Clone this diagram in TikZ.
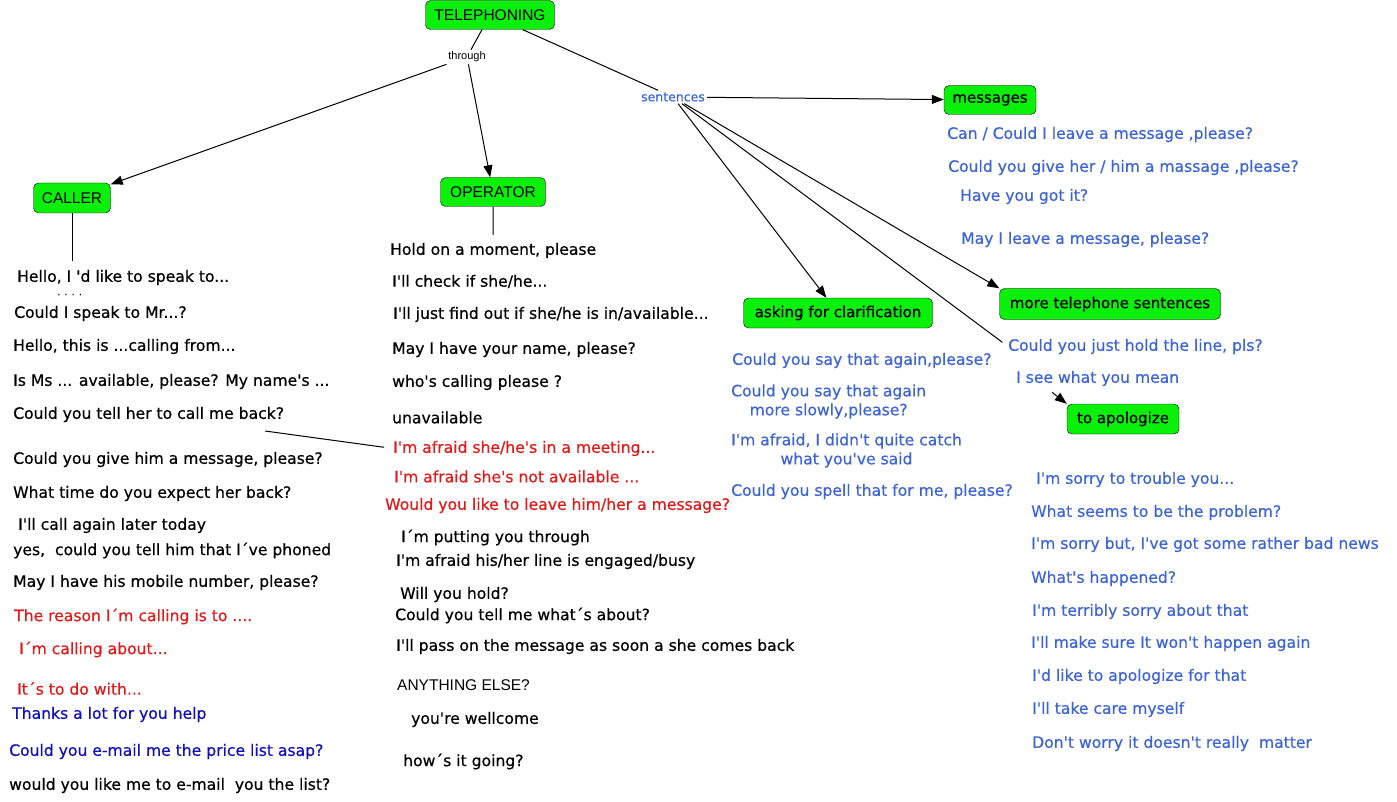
\documentclass[tikz,border=0pt]{standalone}
\usepackage{fontspec}
\setmainfont{DejaVu Sans}[Ligatures=TeXOff, FakeBold=0.5]
\newfontfamily\arialfont{Liberation Sans}[Ligatures=TeXOff]
\usetikzlibrary{arrows.meta}

\definecolor{boxgreen}{RGB}{10,240,10}
\definecolor{sayblue}{RGB}{60,100,215}
\definecolor{darkblue}{RGB}{15,15,190}
\definecolor{sayred}{RGB}{225,25,25}

\begin{document}
\begin{tikzpicture}[x=1pt, y=-1pt,
    box/.style={draw=black, fill=boxgreen, rounded corners=5pt, inner sep=0pt, text=black, font=\fontsize{15}{18}\selectfont},
    capbox/.style={box, font=\arialfont\fontsize{15.5}{18}\selectfont},
    say/.style={anchor=west, inner sep=0pt, yshift=-1.5pt, font=\fontsize{15.6}{19}\selectfont},
    blk/.style={say, text=black},
    blu/.style={say, text=sayblue},
    red/.style={say, text=sayred},
    dkb/.style={say, text=darkblue},
    link/.style={draw=black, line width=1pt},
    arr/.style={link, -{Triangle[length=12pt, width=9pt]}}]
\useasboundingbox (0,0) rectangle (1397,802);

% concept boxes
\node[capbox, minimum width=129pt, minimum height=29pt] (tel) at (490,15) {TELEPHONING};
\node[capbox, minimum width=77pt, minimum height=30pt] (caller) at (72,198) {CALLER};
\node[capbox, minimum width=105pt, minimum height=29pt] (oper) at (493,192) {OPERATOR};
\node[box, minimum width=92pt, minimum height=29pt] (msg) at (990,100) {messages};
\node[box, minimum width=189pt, minimum height=30pt] (clar) at (838,313) {asking for clarification};
\node[box, minimum width=221pt, minimum height=31pt] (more) at (1110,304) {more telephone sentences};
\node[box, minimum width=112pt, minimum height=30pt] (apol) at (1123,419) {to apologize};

% linking words
\node[inner sep=2pt, font=\arialfont\fontsize{11}{13}\selectfont] (through) at (467,57) {through};
\node[inner sep=2pt, text=sayblue, font=\fontsize{12.5}{14}\selectfont] (sent) at (673,97) {sentences};

% caller
\node[blk] (c1) at (17,276) {Hello, I 'd like to speak to...};
\node[blk, font=\fontsize{10}{11}\selectfont] (c2) at (57,293) {.\kern4pt.\kern4pt.\kern4pt.};
\node[blk] (c3) at (14,312) {Could I speak to Mr...?};
\node[blk] (c4) at (13,345) {Hello, this is ...calling from...};
\node[blk] (c5) at (13,380) {Is Ms ... available, please? My name's ...};
\node[blk] (c6) at (13,413) {Could you tell her to call me back?};
\node[blk] (c7) at (13,458) {Could you give him a message, please?};
\node[blk] (c8) at (13,492) {What time do you expect her back?};
\node[blk] (c9) at (18,524) {I'll call again later today};
\node[blk] (c10) at (13,549) {yes,\ \ could you tell him that I´ve phoned};
\node[blk] (c11) at (13,581) {May I have his mobile number, please?};
\node[red] (c12) at (14,615) {The reason I´m calling is to ....};
\node[red] (c13) at (19,648) {I´m calling about...};
\node[red] (c14) at (17,687) {It´s to do with...};
\node[dkb] (c15) at (12,713) {Thanks a lot for you help};
\node[dkb] (c16) at (9,750) {Could you e-mail me the price list asap?};
\node[blk] (c17) at (9,784) {would you like me to e-mail\ \ you the list?};

% operator
\node[blk] (o1) at (390,249) {Hold on a moment, please};
\node[blk] (o2) at (392,280) {I'll check if she/he...};
\node[blk] (o3) at (393,313) {I'll just find out if she/he is in/available...};
\node[blk] (o4) at (392,348) {May I have your name, please?};
\node[blk] (o5) at (392,381) {who's calling please ?};
\node[blk] (o6) at (392,416) {unavailable};
\node[red] (o7) at (393,447) {I'm afraid she/he's in a meeting...};
\node[red] (o8) at (394,475) {I'm afraid she's not available ...};
\node[red] (o9) at (385,504) {Would you like to leave him/her a message?};
\node[blk] (o10) at (401,536) {I´m putting you through};
\node[blk] (o11) at (396,560) {I'm afraid his/her line is engaged/busy};
\node[blk] (o12) at (400,593) {Will you hold?};
\node[blk] (o13) at (395,614) {Could you tell me what´s about?};
\node[blk] (o14) at (396,645) {I'll pass on the message as soon a she comes back};
\node[blk, font=\arialfont\fontsize{15.5}{19}\selectfont] (o15) at (397,684) {ANYTHING ELSE?};
\node[blk] (o16) at (411,718) {you're wellcome};
\node[blk] (o17) at (403,760) {how´s it going?};

% messages
\node[blu] (m1) at (947,133) {Can / Could I leave a message ,please?};
\node[blu] (m2) at (948,166) {Could you give her / him a massage ,please?};
\node[blu] (m3) at (960,195) {Have you got it?};
\node[blu] (m4) at (961,238) {May I leave a message, please?};

% clarification
\node[blu] (k1) at (732,359) {Could you say that again,please?};
\node[blu, align=center] (k2) at (731,400) {Could you say that again\\more slowly,please?};
\node[blu, align=center] (k3) at (731,449) {I'm afraid, I didn't quite catch\\what you've said};
\node[blu] (k4) at (731,490) {Could you spell that for me, please?};

% more telephone sentences
\node[blu] (t1) at (1008,345) {Could you just hold the line, pls?};
\node[blu] (t2) at (1016,377) {I see what you mean};

% apologize
\node[blu] (a1) at (1036,478) {I'm sorry to trouble you...};
\node[blu] (a2) at (1031,511) {What seems to be the problem?};
\node[blu] (a3) at (1031,543) {I'm sorry but, I've got some rather bad news};
\node[blu] (a4) at (1031,577) {What's happened?};
\node[blu] (a5) at (1032,610) {I'm terribly sorry about that};
\node[blu] (a6) at (1031,642) {I'll make sure It won't happen again};
\node[blu] (a7) at (1032,675) {I'd like to apologize for that};
\node[blu] (a8) at (1032,708) {I'll take care myself};
\node[blu] (a9) at (1032,742) {Don't worry it doesn't really\ \ matter};

% connectors
\draw[link] (tel) -- (through);
\draw[arr] (through) -- (caller);
\draw[arr] (through) -- (oper);
\draw[link] (tel) -- (sent);
\draw[arr] (sent) -- (msg);
\draw[arr] (sent) -- (clar);
\draw[arr] (sent) -- (more.north west);
\draw[link, shorten >=7pt] (sent) -- (t1.west);
\draw[arr] ([xshift=36pt, yshift=-6pt]t2.south west) -- (apol.north west);
\draw[link, shorten >=9pt] (caller.south) -- (caller.south |- c1.north);
\draw[link, shorten >=8pt] (oper) -- (o1);
\coordinate (cb) at (265,431);
\draw[link, shorten >=9pt] (cb) -- (o7.west);

\end{tikzpicture}
\end{document}
